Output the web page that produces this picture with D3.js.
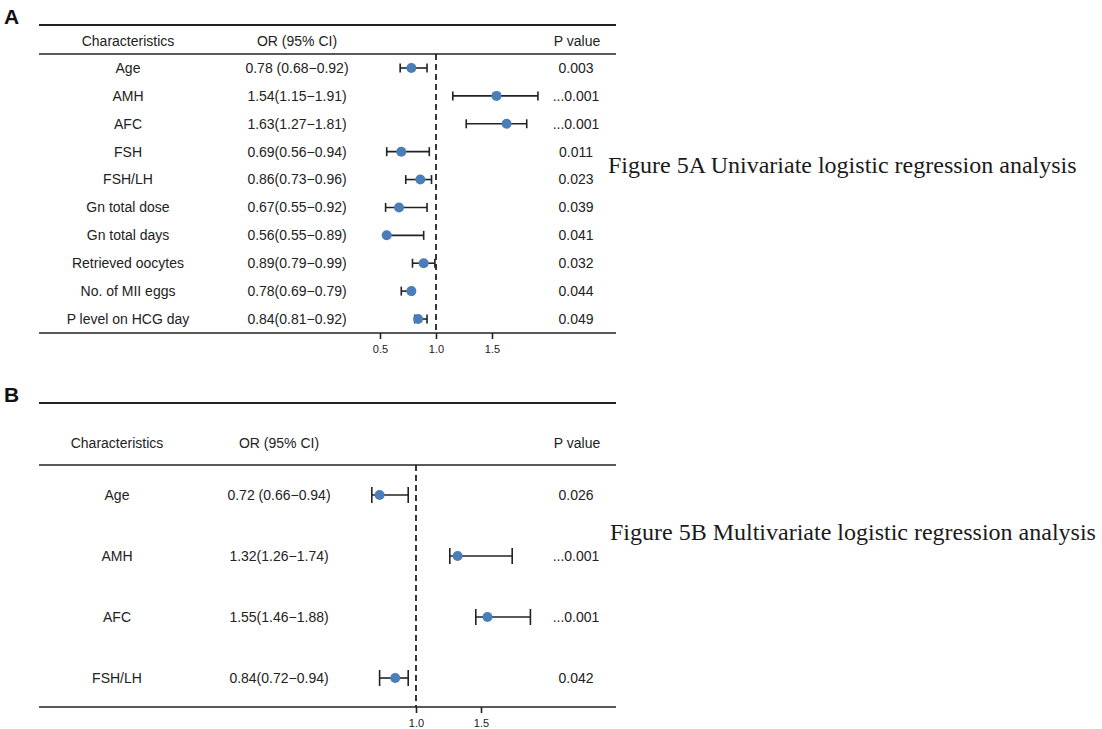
<!DOCTYPE html>
<html>
<head>
<meta charset="utf-8">
<script src="https://cdn.jsdelivr.net/npm/d3@7"></script>
<style>
  html, body { margin: 0; padding: 0; background: #fff; }
  svg { display: block; }
  text { font-family: "Liberation Sans", Arial, sans-serif; fill: #222; }
</style>
</head>
<body>
<svg id="chart" width="1102" height="729"></svg>
<script>
/*
    Forest plots: univariate (A) and multivariate (B) logistic regression.
*/

// panel A
var namesA = ["Age", "AMH", "AFC", "FSH", "FSH/LH", "Gn total dose", "Gn total days",
              "Retrieved oocytes", "No. of MII eggs", "P level on HCG day"];
var orA    = [0.78, 1.54, 1.63, 0.69, 0.86, 0.67, 0.56, 0.89, 0.78, 0.84];
var lowA   = [0.68, 1.15, 1.27, 0.56, 0.73, 0.55, 0.55, 0.79, 0.69, 0.81];
var highA  = [0.92, 1.91, 1.81, 0.94, 0.96, 0.92, 0.89, 0.99, 0.79, 0.92];
var orTextA = ["0.78 (0.68\u22120.92)", "1.54(1.15\u22121.91)", "1.63(1.27\u22121.81)",
               "0.69(0.56\u22120.94)", "0.86(0.73\u22120.96)", "0.67(0.55\u22120.92)",
               "0.56(0.55\u22120.89)", "0.89(0.79\u22120.99)", "0.78(0.69\u22120.79)",
               "0.84(0.81\u22120.92)"];
var pA     = ["0.003", "...0.001", "...0.001", "0.011", "0.023", "0.039", "0.041",
              "0.032", "0.044", "0.049"];
var ticksA = [0.5, 1.0, 1.5];

// panel B
var namesB = ["Age", "AMH", "AFC", "FSH/LH"];
var orB    = [0.72, 1.32, 1.55, 0.84];
var lowB   = [0.66, 1.26, 1.46, 0.72];
var highB  = [0.94, 1.74, 1.88, 0.94];
var orTextB = ["0.72 (0.66\u22120.94)", "1.32(1.26\u22121.74)", "1.55(1.46\u22121.88)",
               "0.84(0.72\u22120.94)"];
var pB     = ["0.026", "...0.001", "...0.001", "0.042"];
var ticksB = [1.0, 1.5];

var headers = ["Characteristics", "OR (95% CI)", "P value"];
var captions = ["Figure 5A Univariate logistic regression analysis",
                "Figure 5B Multivariate logistic regression analysis"];

var svg = d3.select("#chart");
svg.append("rect").attr("width", 1102).attr("height", 729).attr("fill", "#fff");

function forest(cfg) {
    var g = svg.append("g");
    var rows = cfg.names.map(function(n, i) {
        return {name: n, or: cfg.or[i], lo: cfg.low[i], hi: cfg.high[i],
                txt: cfg.orText[i], p: cfg.p[i]};
    });

    var x = d3.scaleLinear().domain(cfg.xDomain).range(cfg.xRange);
    var y = d3.scalePoint().domain(d3.range(rows.length)).range(cfg.yRange);

    // panel letter
    g.append("text")
        .attr("x", 4).attr("y", cfg.letterY)
        .style("font-family", "'Liberation Sans', Arial, sans-serif")
        .style("font-weight", "bold").style("font-size", "21px")
        .style("fill", "#111")
        .text(cfg.letter);

    // horizontal rules
    [[cfg.topY, 2], [cfg.headY, 1.6], [cfg.botY, 1.6]].forEach(function(r) {
        g.append("line")
            .attr("x1", 39).attr("x2", 616)
            .attr("y1", r[0]).attr("y2", r[0])
            .attr("stroke", "#222").attr("stroke-width", r[1]);
    });

    // header
    var hy = cfg.headTextY;
    g.append("text").attr("x", cfg.nameX).attr("y", hy).attr("dy", "0.35em")
        .attr("text-anchor", "middle").style("font-size", "14px").text(headers[0]);
    g.append("text").attr("x", cfg.orX).attr("y", hy).attr("dy", "0.35em")
        .attr("text-anchor", "middle").style("font-size", "14px").text(headers[1]);
    g.append("text").attr("x", 577).attr("y", hy).attr("dy", "0.35em")
        .attr("text-anchor", "middle").style("font-size", "14px").text(headers[2]);

    // reference line at OR = 1
    g.append("line")
        .attr("x1", x(1)).attr("x2", x(1))
        .attr("y1", cfg.headY).attr("y2", cfg.botY)
        .attr("stroke", "#222").attr("stroke-width", 1.8)
        .attr("stroke-dasharray", "6,4");

    var row = g.selectAll(".row").data(rows).enter().append("g")
        .attr("class", "row")
        .attr("transform", function(d, i) { return "translate(0," + y(i) + ")"; });

    row.append("text").attr("x", cfg.nameX).attr("dy", "0.35em")
        .attr("text-anchor", "middle").style("font-size", "14px")
        .text(function(d) { return d.name; });
    row.append("text").attr("x", cfg.orX).attr("dy", "0.35em")
        .attr("text-anchor", "middle").style("font-size", "14px")
        .text(function(d) { return d.txt; });
    row.append("text").attr("x", 576).attr("dy", "0.35em")
        .attr("text-anchor", "middle").style("font-size", "14px")
        .text(function(d) { return d.p; });

    // CI whiskers
    row.append("line")
        .attr("x1", function(d) { return x(d.lo); })
        .attr("x2", function(d) { return x(d.hi); })
        .attr("stroke", "#222").attr("stroke-width", 1.6);
    [function(d) { return x(d.lo); }, function(d) { return x(d.hi); }].forEach(function(fx) {
        row.append("line")
            .attr("x1", fx).attr("x2", fx)
            .attr("y1", -cfg.cap / 2).attr("y2", cfg.cap / 2)
            .attr("stroke", "#222").attr("stroke-width", 1.6);
    });
    row.append("circle")
        .attr("cx", function(d) { return x(d.or); })
        .attr("r", cfg.r)
        .attr("fill", "#4a7ebb");

    // axis
    var axis = g.append("g")
        .attr("transform", "translate(0," + cfg.botY + ")")
        .call(d3.axisBottom(x).tickValues(cfg.ticks).tickSize(6).tickPadding(6)
              .tickFormat(d3.format(".1f")));
    axis.select(".domain").remove();
    axis.selectAll(".tick line").attr("stroke", "#222").attr("stroke-width", 1.6);
    axis.selectAll(".tick text")
        .style("font-family", "'Liberation Sans', Arial, sans-serif")
        .style("font-size", "11px").attr("fill", "#333");

    // caption on the right
    svg.append("text")
        .attr("x", cfg.capX).attr("y", cfg.capY)
        .style("font-family", "'Liberation Serif', 'Times New Roman', serif")
        .style("font-size", "24px").style("fill", "#1a1a1a")
        .text(cfg.caption);
}

forest({
    letter: "A", letterY: 24,
    names: namesA, or: orA, low: lowA, high: highA, orText: orTextA, p: pA,
    ticks: ticksA, xDomain: [0.5, 1.5], xRange: [380, 492],
    yRange: [68, 319], topY: 25, headY: 54, botY: 333, headTextY: 41.5,
    nameX: 128, orX: 297, cap: 9, r: 5,
    caption: captions[0], capX: 608, capY: 173
});

forest({
    letter: "B", letterY: 402,
    names: namesB, or: orB, low: lowB, high: highB, orText: orTextB, p: pB,
    ticks: ticksB, xDomain: [1.0, 1.5], xRange: [416, 481],
    yRange: [495, 678], topY: 403, headY: 465, botY: 707, headTextY: 443,
    nameX: 117, orX: 279, cap: 16, r: 5,
    caption: captions[1], capX: 610, capY: 540
});
</script>
</body>
</html>
